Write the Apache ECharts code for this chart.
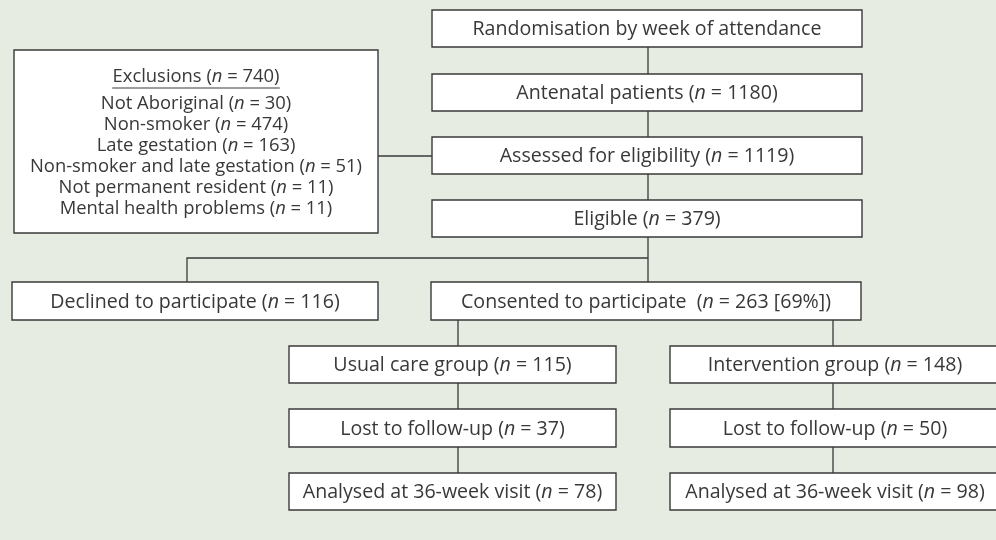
<!DOCTYPE html>
<html>
<head>
<meta charset="utf-8">
<script src="https://cdn.jsdelivr.net/npm/echarts@6/dist/echarts.min.js"></script>
<style>
  html, body { margin: 0; padding: 0; background: #e7ece2; }
  #chart1 { width: 996px; height: 540px; }
</style>
</head>
<body>
<div id="chart1"></div>
<script>
// flow stages and counts
var stages = ['Randomisation by week of attendance', 'Antenatal patients', 'Assessed for eligibility', 'Eligible',
    'Declined to participate', 'Consented to participate ', 'Usual care group', 'Intervention group',
    'Lost to follow-up', 'Lost to follow-up', 'Analysed at 36-week visit', 'Analysed at 36-week visit'];
var stageN = [null, 1180, 1119, 379, 116, '263 [69%]', 115, 148, 37, 50, 78, 98];
var exclusionTotal = 740;
var exclusionReasons = ['Not Aboriginal', 'Non-smoker', 'Late gestation', 'Non-smoker and late gestation',
    'Not permanent resident', 'Mental health problems'];
var exclusionN = [30, 474, 163, 51, 11, 11];

// layout of the boxes: [x0, y0, x1, y1] in axis units (pixels)
var boxLayout = [
    [432, 10, 862, 47], [432, 74, 862, 111], [432, 137, 862, 174], [432, 200, 862, 237],
    [12, 282, 378, 320], [431, 282, 861, 320], [289, 346, 616, 383], [670, 346, 1000, 383],
    [289, 409, 616, 447], [670, 409, 1000, 447], [289, 473, 616, 510], [670, 473, 1000, 510]
];
var exclusionBox = [14, 50, 378, 233];
// connectors as polylines
var connectors = [
    [[648, 47], [648, 74]], [[648, 111], [648, 137]], [[648, 174], [648, 200]],
    [[378, 156], [432, 156]],
    [[648, 237], [648, 282]], [[187, 282], [187, 258], [648, 258]],
    [[458, 320], [458, 346]], [[458, 383], [458, 409]], [[458, 447], [458, 473]],
    [[833, 320], [833, 346]], [[833, 383], [833, 409]], [[833, 447], [833, 473]]
];

var FONT = 'Open Sans';
var FS = 19.6;   // 主框字号
var FS2 = 18.4;  // 排除框字号
var TXT = '#383838';

function label(name, n) {
    if (n === null) return name;
    return name + ' ({i|n} = ' + n + ')';
}
function richFor(size, lh) {
    return { i: { fontStyle: 'italic', fontSize: size, fontFamily: FONT, fill: TXT, color: TXT, lineHeight: lh } };
}

var measure = document.createElement('canvas').getContext('2d');

var boxData = boxLayout.map(function (b, i) {
    return b.concat([i]);
});

option = {
    backgroundColor: '#e7ece2',
    animation: false,
    grid: { left: 0, right: 0, top: 0, bottom: 0 },
    xAxis: { type: 'value', min: 0, max: 996, show: false },
    yAxis: { type: 'value', min: 0, max: 540, inverse: true, show: false },
    series: [
        {
            // 连线
            type: 'custom',
            data: connectors.map(function (c, i) { return [i]; }),
            renderItem: function (params, api) {
                var pts = connectors[params.dataIndex].map(function (p) { return api.coord(p); });
                return {
                    type: 'polyline',
                    shape: { points: pts },
                    style: { stroke: '#3a3a3a', lineWidth: 1.3, fill: null }
                };
            },
            z: 1
        },
        {
            // 方框
            type: 'custom',
            data: boxData,
            renderItem: function (params, api) {
                var i = params.dataIndex;
                var p0 = api.coord([api.value(0), api.value(1)]);
                var p1 = api.coord([api.value(2), api.value(3)]);
                var txt = label(stages[i], stageN[i]);
                return {
                    type: 'group',
                    children: [{
                        type: 'rect',
                        shape: { x: p0[0], y: p0[1], width: p1[0] - p0[0], height: p1[1] - p0[1] },
                        style: { fill: '#ffffff', stroke: '#3a3a3a', lineWidth: 1.4 }
                    }, {
                        type: 'text',
                        style: {
                            x: (p0[0] + p1[0]) / 2, y: (p0[1] + p1[1]) / 2 + 1,
                            text: txt, rich: richFor(FS),
                            fontSize: FS, fontFamily: FONT, fill: TXT,
                            align: 'center', verticalAlign: 'middle',
                            textAlign: 'center', textVerticalAlign: 'middle'
                        }
                    }]
                };
            },
            z: 2
        },
        {
            // 排除框
            type: 'custom',
            data: [exclusionBox],
            renderItem: function (params, api) {
                var p0 = api.coord([api.value(0), api.value(1)]);
                var p1 = api.coord([api.value(2), api.value(3)]);
                var cx = (p0[0] + p1[0]) / 2;
                var title = 'Exclusions ({i|n} = ' + exclusionTotal + ')';
                measure.font = FS2 + 'px "' + FONT + '"';
                var tw = measure.measureText('Exclusions (n = ' + exclusionTotal + ')').width;
                var lines = exclusionReasons.map(function (r, k) {
                    return r + ' ({i|n} = ' + exclusionN[k] + ')';
                }).join('\n');
                var ty = p0[1] + 27;
                return {
                    type: 'group',
                    children: [{
                        type: 'rect',
                        shape: { x: p0[0], y: p0[1], width: p1[0] - p0[0], height: p1[1] - p0[1] },
                        style: { fill: '#ffffff', stroke: '#3a3a3a', lineWidth: 1.4 }
                    }, {
                        type: 'text',
                        style: {
                            x: cx, y: ty, text: title, rich: richFor(FS2),
                            fontSize: FS2, fontFamily: FONT, fill: TXT,
                            align: 'center', verticalAlign: 'middle',
                            textAlign: 'center', textVerticalAlign: 'middle'
                        }
                    }, {
                        type: 'line',
                        shape: { x1: cx - tw / 2, y1: ty + 11, x2: cx + tw / 2, y2: ty + 11 },
                        style: { stroke: '#3a3a3a', lineWidth: 1 }
                    }, {
                        type: 'text',
                        style: {
                            x: cx, y: p0[1] + 106, text: lines, rich: richFor(FS2, 21),
                            fontSize: FS2, fontFamily: FONT, fill: TXT, lineHeight: 21,
                            align: 'center', verticalAlign: 'middle',
                            textAlign: 'center', textVerticalAlign: 'middle'
                        }
                    }]
                };
            },
            z: 2
        }
    ]
};

var myChart = echarts.init(document.getElementById('chart1'));
myChart.setOption(option);
</script>
</body>
</html>
